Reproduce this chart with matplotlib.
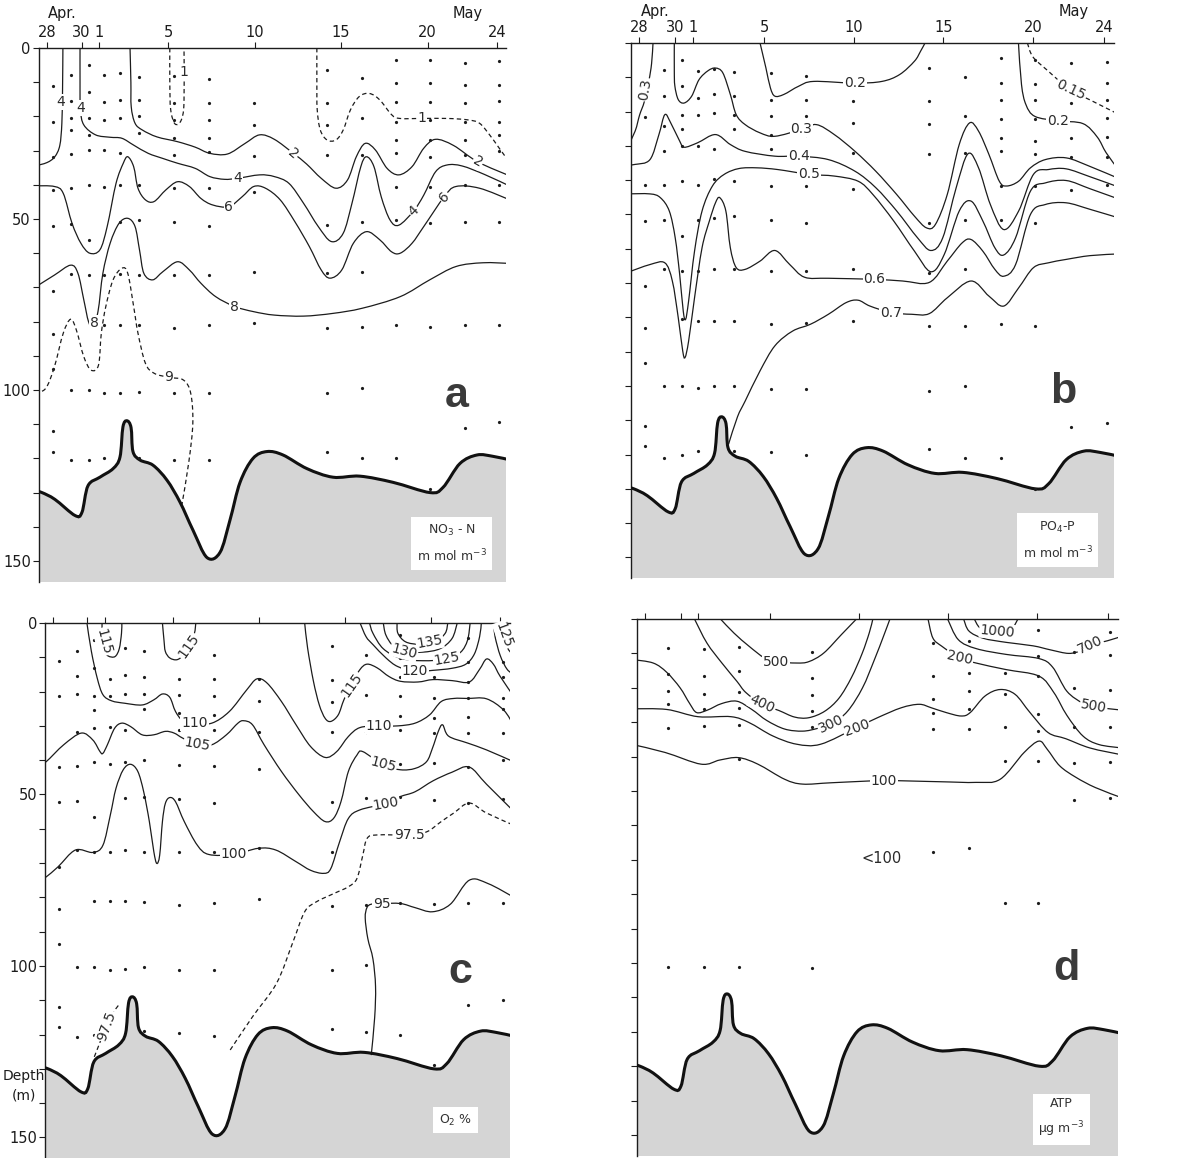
import matplotlib
matplotlib.use("Agg")
import numpy as np
import matplotlib.pyplot as plt
from matplotlib.path import Path
from matplotlib.patches import PathPatch
from matplotlib.transforms import blended_transform_factory

# x = days after 28 April, y = depth (m)
tick_days = [0, 2, 3, 7, 12, 17, 22, 26]
tick_names = ["28", "30", "1", "5", "10", "15", "20", "24"]

stations = [0.35, 1.4, 2.4, 3.3, 4.2, 5.3, 7.35, 9.35, 11.95, 16.2, 18.2, 20.2, 22.15, 24.15, 26.15]
atp_stations = [1.3, 3.3, 5.3, 9.4, 16.2, 18.2, 20.2, 22.1, 24.1, 26.1]

bottom_t = [-0.7, -0.29, 0.46, 1.62, 2.02, 2.37, 3.06, 3.82, 4.22, 4.39, 4.62, 4.86, 4.97, 5.38,
            6.13, 6.94, 7.69, 8.44, 9.25, 10.0, 10.58, 11.16, 11.91, 12.72, 13.64, 15.03, 16.53,
            18.09, 20.0, 22.14, 22.89, 23.87, 24.86, 25.78, 26.8]
bottom_d = [129.5, 130, 132, 136.7, 135.8, 128, 125.5, 123, 119.6, 110.8, 109, 111, 118, 120.5,
            122, 126.4, 132.8, 141, 149, 147.5, 138, 127, 120, 118, 119, 123, 125.5,
            125.2, 127, 130, 128.5, 121.5, 119, 119.4, 120.5]

# sampling depths per station
dots_no3 = [
    [11, 21.5, 32, 41.5, 52, 71, 83.5, 94, 112, 118],
    [8, 15.5, 20.5, 24, 31, 41, 51.5, 66, 100, 120.5],
    [5, 12.8, 20.6, 25.4, 29.8, 40, 56, 66.4, 100, 120.5],
    [7.9, 15.7, 21, 29.8, 40.5, 66.4, 81, 101, 120],
    [7.4, 15.2, 20.6, 30.8, 40, 50.8, 66, 81, 101],
    [8.4, 15.2, 20, 25, 40, 50.3, 66.4, 81, 100.5, 120],
    [8.2, 16.2, 21, 26.2, 31.3, 41, 50.8, 66.4, 82, 101, 120.5],
    [9.2, 16.2, 21, 26.2, 30.3, 41, 52, 66.4, 81, 100.8, 120.5],
    [16.2, 22.5, 31.6, 42, 65.4, 80.3],
    [6.4, 16.2, 22.5, 31.3, 51.8, 65.9, 82, 101, 118],
    [8.9, 20.6, 31.3, 50.8, 65.4, 81.5, 99.5, 120],
    [3.5, 10.3, 15.7, 21.5, 26.9, 30.8, 40.5, 50.3, 81, 120],
    [3.5, 10.3, 15.7, 21, 27, 31.8, 40.5, 51.3, 81.5, 129],
    [4.4, 10.8, 16.1, 21.6, 26.9, 31.3, 40, 51, 81, 111],
    [3.9, 10.8, 15.5, 21.6, 25.3, 30.1, 40, 51, 81, 109.5],
]
dots_po4 = [
    [21.5, 41.3, 51.9, 70.9, 83, 93.2, 111.7, 117.5],
    [7.8, 15.5, 24.3, 31.6, 41.3, 51.5, 66, 100, 121],
    [4.9, 12.6, 20.9, 25.2, 30.1, 40.3, 56.3, 66.5, 80.6, 100, 120],
    [8.3, 16, 20.9, 30.1, 41.3, 51.5, 66.5, 81, 100.5, 119],
    [7.6, 15, 20.4, 31, 39.8, 51, 66, 81, 100],
    [8.4, 15.5, 20.9, 25.2, 40.3, 50.5, 66, 81, 100, 119],
    [8.7, 16.5, 21.4, 26.7, 31, 41.7, 51.5, 66.5, 82, 101, 119.4],
    [9.7, 16.5, 21.4, 26.7, 31.6, 41.7, 52.4, 66.5, 81.6, 101, 120],
    [17, 23.3, 32, 42.7, 66, 81],
    [7.3, 17, 23.6, 32.3, 52.4, 67, 82.5, 101.5, 118.4],
    [10, 21.4, 32, 51.5, 66, 82.5, 100, 120.9],
    [4.4, 11.7, 16.5, 22.3, 27.7, 31.6, 41.7, 51.5, 82, 121],
    [4.9, 12.1, 16.5, 22.3, 28.6, 32.5, 41.7, 52.4, 82.5, 130],
    [5.8, 12.2, 17.5, 27.7, 33.2, 42.9, 112],
    [5.4, 11.7, 16.6, 21.9, 27.4, 33.2, 41.4, 110.8],
]
dots_o2 = [
    [11.2, 21.4, 41.9, 52.1, 71.1, 83.3, 93.5, 112, 117.9],
    [8.1, 15.4, 20.6, 31.8, 41.6, 51.8, 66.2, 100.3, 120.7],
    [5, 13, 21.4, 25.3, 30.7, 40.4, 56.5, 66.9, 81.1, 100.3, 120],
    [16.4, 21.4, 30.4, 41.1, 66.7, 81.1, 101.3],
    [7.3, 15.1, 20.6, 31.2, 40.4, 51.1, 66.2, 81.1, 100.8],
    [8.3, 15.6, 20.6, 25.1, 39.9, 50.6, 66.7, 81.3, 100.3, 119],
    [8.3, 16.4, 21.1, 26.3, 31.2, 41.4, 51.3, 66.7, 82.1, 101.3, 119.6],
    [9.4, 16.4, 21.4, 26.8, 31.2, 41.6, 52.6, 66.7, 81.5, 101.3, 120.4],
    [16.4, 22.7, 31.8, 42.6, 65.7, 80.5],
    [6.8, 16.6, 23.1, 31.8, 52.1, 66.7, 82.5, 101.3, 118.3],
    [9.3, 20.9, 31.8, 51.1, 82.1, 99.8, 119.3],
    [3.4, 10.2, 15.6, 21.4, 27, 31.2, 41.2, 50.6, 81.5, 120],
    [3.4, 9.3, 15.6, 21.9, 27.8, 32.1, 40.9, 51.6, 81.8, 129],
    [4.5, 11.3, 17.2, 21.9, 27.4, 32.1, 42, 52.5, 81.5, 111.4],
    [4.5, 11.3, 15.7, 21.9, 25.2, 32, 40, 51.3, 81.5, 110],
]
dots_atp = [
    [8.4, 15.9, 20.8, 24.8, 31.8, 101.2],
    [8.6, 16.6, 21.9, 26.3, 31.1, 101.2],
    [8.2, 15.2, 21.3, 25.8, 30.9, 40.8, 101.2],
    [9.5, 17.1, 22.2, 26.8, 31.3, 101.6],
    [7, 16.6, 23.4, 27.2, 32.1, 67.6],
    [6.5, 15.7, 20.8, 26.3, 32.1, 66.7],
    [3.3, 15.7, 21.9, 31.3, 41.3, 82.5],
    [3.1, 10.8, 16.6, 27.7, 32.6, 41.3, 82.5],
    [9.6, 20.1, 31.3, 41.9, 52.6],
    [3.7, 10.5, 20.6, 31.3, 41.6, 52],
]

# ---- isolines, (day, depth) ----
no3_4_left = [(0.92, 0), (0.9, 12), (0.86, 22), (0.74, 28.5), (0.45, 31.8), (0.0, 33.5), (-0.7, 34.5)]
no3_4 = [(1.91, 0), (1.91, 10), (1.93, 18), (2.13, 22.5), (2.81, 25.4), (3.65, 26.1), (4.33, 26.4),
         (5.01, 28.4), (5.85, 30.8), (6.7, 32.3), (7.55, 33.7), (8.57, 35.2), (9.41, 37.6),
         (10.26, 38.4), (11.02, 38.1), (12.29, 37.1), (13.14, 37.6), (13.99, 39.6), (14.83, 45.4),
         (15.68, 52.2), (16.44, 56.6), (17.12, 54.2), (17.63, 45.4), (18.14, 34.7), (18.47, 31.8),
         (18.9, 34.7), (19.32, 43.5), (19.83, 50.3), (20.34, 51.8), (21.2, 47.6), (21.78, 43),
         (22.46, 36.2), (23.13, 34.2), (24.0, 34.5), (25.3, 37), (26.8, 40.5)]
no3_2 = [(4.8, 0), (4.85, 10), (4.87, 17.2), (5.09, 22), (5.52, 24), (6.36, 26), (7.55, 27.4),
         (8.57, 29), (9.41, 30.8), (10.43, 31), (11.45, 27.9), (12.29, 25.4), (13.14, 26.7),
         (14.24, 30.8), (15.0, 33.9), (15.85, 38.1), (16.7, 41), (17.37, 38.6), (17.88, 31.8),
         (18.39, 27.9), (18.98, 29.8), (19.66, 35.2), (20.34, 37.1), (21.1, 34.7), (21.78, 29.3),
         (22.46, 26.7), (23.5, 28.5), (24.9, 33.3), (26.8, 37.5)]
no3_6 = [(-0.7, 40.3), (0.43, 40.5), (0.94, 42.5), (1.45, 51.3), (1.96, 57.1), (2.47, 60), (3.06, 59),
         (3.48, 52.2), (3.99, 39.6), (4.41, 33.7), (4.67, 31.8), (5.01, 34.7), (5.26, 41), (5.69, 44.4),
         (6.19, 44.9), (6.87, 41.5), (7.55, 39.1), (8.23, 40.5), (8.9, 44), (9.58, 45.9), (10.51, 46.4),
         (11.28, 43.5), (11.95, 40.5), (12.63, 41), (13.48, 44.4), (14.33, 50.8), (15.17, 58.1),
         (15.85, 64.9), (16.36, 67.3), (17.04, 64.9), (17.71, 57.1), (18.47, 53.7), (19.24, 56.1),
         (19.92, 59.6), (20.42, 60), (21.1, 57.1), (21.78, 52.2), (22.96, 43.5), (23.64, 40.5),
         (25.0, 41), (26.8, 44.5)]
no3_8 = [(-0.7, 70), (0.43, 66.4), (1.37, 63.5), (1.79, 65.9), (2.13, 73.7), (2.4, 80), (2.65, 81.5),
         (2.95, 77), (3.23, 65.9), (3.65, 57.1), (4.16, 51.3), (4.67, 49.8), (5.09, 52.2), (5.35, 59.1),
         (5.6, 65.9), (6.11, 67.8), (6.7, 65.4), (7.55, 62.5), (8.23, 64.9), (8.9, 68.8), (9.75, 72.7),
         (10.85, 75.6), (11.95, 77.1), (13.14, 78.1), (14.83, 78.4), (16.53, 77.6), (18.22, 76.1),
         (20.42, 72.7), (22.12, 67.8), (23.64, 63.9), (25.2, 62.8), (26.8, 63)]
no3_9 = [(-0.7, 101), (-0.07, 99.5), (0.43, 93.2), (0.94, 83.4), (1.37, 79.3), (1.7, 82.5), (2.13, 90.3),
         (2.55, 94.2), (2.98, 92.7), (3.14, 83.4), (3.4, 75.6), (3.82, 67.8), (4.33, 64.4), (4.67, 65.9),
         (5.01, 75.6), (5.26, 83.4), (5.69, 92.2), (6.19, 95.1), (7.04, 96.3), (7.89, 97.1), (8.31, 101),
         (8.43, 109.7), (8.2, 121), (7.8, 133.5)]
no3_1_loop = [(7.1, 0), (7.1, 10), (7.15, 18), (7.4, 22.2), (7.75, 21.2), (7.92, 16), (7.92, 0)]
no3_1 = [(15.6, 0), (15.6, 10), (15.62, 18), (15.8, 24), (16.19, 26.9), (16.7, 26.9), (17.12, 24),
         (17.54, 18.1), (18.05, 14.2), (18.64, 13.3), (19.24, 15.2), (19.92, 19.5), (20.4, 20.6),
         (21.69, 20.6), (23.13, 20.6), (24.3, 21), (25.0, 22), (25.6, 25.5), (26.1, 29), (26.6, 32.5)]

po4_03_left = [(0.78, 0), (0.7, 6), (0.55, 11), (0.3, 17), (0.03, 21), (-0.22, 25.7), (-0.7, 31)]
po4_03 = [(1.97, 0), (1.97, 8), (2.0, 12.5), (2.19, 16.5), (2.52, 17.5), (2.94, 15.5), (3.35, 10.7),
          (3.85, 8.1), (4.27, 7.3), (4.68, 8.7), (5.1, 15), (5.43, 20.9), (5.93, 23.8), (6.76, 26.2),
          (7.59, 27.2), (9.08, 25.2), (9.91, 23.8), (10.91, 26.7), (12.07, 31.6), (13.23, 37.4),
          (14.4, 44.2), (15.39, 50.5), (16.06, 53.9), (16.56, 52.9), (17.22, 44.2), (17.89, 29.6),
          (18.47, 23.3), (18.97, 25.7), (19.55, 32.5), (20.13, 40.3), (20.54, 41.7), (21.21, 40.3),
          (21.87, 36.4), (22.7, 34), (23.87, 33.5), (25.2, 36), (26.8, 39.5)]
po4_04 = [(-0.7, 35.5), (-0.22, 35.4), (0.61, 34), (1.11, 26.7), (1.44, 20.9), (1.77, 23.3), (2.27, 28.6),
          (2.52, 30.4), (3.27, 29.1), (4.27, 26.7), (5.1, 29.6), (5.93, 31.6), (7.59, 33), (8.92, 33),
          (10.58, 34), (12.07, 37.4), (13.23, 42.2), (14.4, 49), (15.56, 56.8), (16.31, 60.5),
          (16.97, 56.8), (17.72, 42.2), (18.38, 32.3), (18.97, 36.4), (19.63, 47.1), (20.38, 54.4),
          (21.21, 49), (22.04, 38.3), (22.87, 36.9), (23.87, 36.7), (25.2, 39), (26.8, 42)]
po4_05 = [(-0.7, 44), (0.61, 44), (1.19, 45.1), (1.69, 49), (2.02, 56.8), (2.27, 67.5), (2.47, 78.2),
          (2.6, 80.6), (2.77, 75.2), (3.1, 60.7), (3.52, 49), (4.1, 41.7), (4.76, 38.3), (5.59, 36.6),
          (6.59, 36.4), (7.75, 36.9), (9.5, 38.3), (10.91, 38.8), (12.24, 40.3), (13.07, 44.2),
          (14.23, 51.9), (15.39, 60.7), (16.31, 66.7), (17.05, 61.7), (17.89, 49), (18.55, 46.1),
          (19.21, 51.9), (19.88, 59.7), (20.38, 61.8), (21.04, 56.8), (21.87, 43.2), (22.7, 40.8),
          (23.87, 40.1), (25.2, 42.5), (26.8, 45.5)]
po4_06 = [(-0.7, 67), (0.61, 64.6), (1.44, 64.1), (1.86, 69.4), (2.19, 80.1), (2.44, 89.8), (2.57, 91.7),
          (2.77, 86.9), (3.1, 74.3), (3.52, 59.7), (3.93, 51.9), (4.27, 46.6), (4.51, 45.1), (4.85, 49),
          (5.1, 59.7), (5.43, 65.5), (5.93, 66), (6.76, 63.6), (7.59, 60.5), (8.42, 64.6), (9.25, 68.3),
          (10.58, 68.6), (13.15, 68.9), (14.73, 69.4), (16.22, 69.8), (17.22, 63.6), (18.05, 58.3),
          (18.55, 57.3), (19.21, 60.7), (19.88, 66), (20.38, 68), (21.04, 64.6), (21.87, 50),
          (22.7, 47.1), (23.87, 46.6), (25.2, 48.5), (26.8, 51)]
po4_07 = [(5.0, 117), (5.5, 109), (5.93, 104.4), (6.76, 95.6), (7.59, 88.3), (8.58, 84), (9.58, 82),
          (10.58, 79.1), (11.57, 75.7), (12.24, 75), (12.9, 76.7), (14.07, 78.6), (15.23, 79.1),
          (16.22, 78.9), (17.22, 74.3), (18.55, 69.4), (19.55, 73.8), (20.38, 76.7), (21.21, 71.4),
          (22.04, 65.5), (22.87, 64.1), (23.87, 63.1), (25.2, 62), (26.8, 61.5)]
po4_02 = [(6.76, 0), (7.09, 7.3), (7.34, 13.1), (7.59, 15.5), (8.09, 15), (8.92, 12.6), (9.75, 11.2),
          (12.07, 11.7), (13.57, 11.2), (14.56, 9.2), (15.39, 5.3), (15.73, 2.4), (15.98, 0)]
po4_02_right = [(21.2, 0), (21.37, 12.1), (21.62, 18), (22.12, 21.4), (23.4, 22.7), (24.8, 23.5),
                (25.6, 27.4), (26.1, 32), (26.8, 37)]
po4_015 = [(21.7, 0), (22.0, 4), (22.8, 7.9), (24.1, 13.7), (25.2, 16.6), (26.8, 20.8)]

o2_115_a = [(2.85, 0), (2.86, 4), (2.95, 8), (3.2, 9.6), (3.6, 9.8), (3.85, 7.5), (3.98, 3), (4.0, 0)]
o2_115_b = [(6.36, 0), (6.45, 5), (6.53, 8.3), (6.79, 10.2), (7.21, 10.7), (7.6, 9.2), (7.95, 6),
            (8.22, 3), (8.3, 0)]
o2_110 = [(1.97, 0), (2.23, 8.3), (2.57, 16.1), (2.9, 20.9), (3.41, 22.7), (4.17, 23.4), (5.18, 23.9),
          (5.86, 22.4), (6.36, 20.7), (6.79, 21.7), (7.12, 25.8), (7.55, 28.5), (8.22, 29.2), (9.23, 29.2),
          (10.25, 25.8), (11.26, 19.5), (11.85, 16.3), (12.44, 17.5), (13.28, 22.9), (14.13, 29.7),
          (14.97, 36), (15.82, 39.2), (16.49, 37.5), (17.17, 33.1), (17.84, 30.5), (18.94, 30),
          (20.04, 30), (21.05, 29.2), (21.89, 26.8), (22.57, 22.9), (23.3, 22), (24.1, 22),
          (25.2, 22.1), (26.2, 25.4), (26.8, 30)]
o2_115_c = [(14.63, 0), (14.8, 7.3), (15.14, 17), (15.48, 23.9), (15.82, 27.8), (16.15, 28.7),
            (16.58, 26.8), (16.91, 22.4), (17.34, 18), (17.84, 13.6), (18.26, 12), (18.85, 13.1),
            (19.53, 15.6), (20.2, 17), (21.22, 17.2), (22.1, 16.5), (23.2, 16.8), (24.2, 17.2),
            (24.8, 13.5), (25.2, 10.5), (25.6, 12), (26.0, 15.6), (26.8, 21.5)]
o2_120 = [(17.85, 0), (18.2, 4), (18.6, 6.3), (19.36, 10.2), (20.04, 12.7), (21.05, 14.1), (22.1, 13.8),
          (23.2, 13.2), (24.0, 12), (24.5, 9), (24.8, 4), (24.9, 0)]
o2_125 = [(18.4, 0), (18.6, 3), (19.2, 7.5), (20.2, 10.3), (21.5, 11), (22.9, 10.5), (23.7, 8.5),
          (24.1, 5), (24.25, 0)]
o2_130 = [(19.2, 0), (19.35, 3.5), (19.8, 6.8), (20.5, 8.3), (21.5, 8.5), (22.5, 7.5), (23.2, 4.5), (23.5, 0)]
o2_135 = [(20.0, 0), (20.05, 3), (20.5, 5.5), (21.3, 6.2), (22.2, 5.5), (22.8, 3), (22.95, 0)]
o2_120_right = [(25.6, 0), (25.7, 4), (26.0, 9.5), (26.4, 13.5), (26.8, 15)]
o2_125_right = [(26.1, 0), (26.25, 4), (26.45, 7.5), (26.8, 9.5)]
o2_105 = [(-0.7, 41), (-0.39, 40.4), (0.62, 35.5), (1.64, 32.1), (2.31, 34.1), (2.73, 37.5), (2.9, 38),
          (3.16, 35.5), (3.58, 30.7), (4.0, 29.2), (4.51, 30.2), (5.18, 32.6), (5.86, 32.6), (6.53, 31.6),
          (7.04, 32.1), (7.55, 33.6), (8.39, 35.5), (9.23, 35.5), (10.08, 32.6), (10.75, 29.2),
          (11.09, 28.5), (11.6, 29.7), (12.27, 35.5), (13.28, 43.3), (14.3, 50.1), (15.14, 55),
          (15.82, 57.9), (16.32, 56.9), (16.74, 52.1), (17.17, 43.3), (17.67, 38.5), (18.01, 37.5),
          (19.19, 41.4), (20.2, 42.8), (21.05, 42.4), (21.72, 40.4), (22.06, 36.5), (22.4, 31.6),
          (22.65, 29.7), (23.0, 33), (24.1, 35), (25.2, 37), (26.8, 40.5)]
o2_100 = [(-0.7, 75), (-0.39, 74), (0.29, 71.1), (1.3, 66.2), (2.31, 66.9), (2.9, 64.8), (3.33, 56),
          (3.66, 48.2), (4.08, 42.8), (4.51, 41.2), (4.93, 43.3), (5.27, 49.2), (5.6, 57.9), (5.86, 66.7),
          (6.03, 70.1), (6.2, 67.7), (6.36, 57.9), (6.53, 52.6), (6.79, 50.9), (7.12, 52.1), (7.63, 57.9),
          (8.39, 64.8), (9.06, 67.5), (10.5, 67.5), (11.93, 65.7), (12.95, 66.2), (14.13, 69.6),
          (14.97, 72.1), (15.73, 73), (16.15, 71.6), (16.66, 63.8), (17.17, 57), (17.84, 54.5),
          (19.36, 52.6), (20.2, 50.6), (21.05, 49.2), (22.1, 46), (23.2, 43.5), (24.2, 42), (25.2, 47),
          (26.8, 55)]
o2_975 = [(10.3, 124.5), (11.6, 114.8), (13.0, 105), (13.95, 93), (14.63, 84.2), (15.31, 81.3),
          (16.32, 78.9), (17.17, 76.9), (17.67, 74.5), (18.01, 67.7), (18.26, 62.8), (18.85, 61.8),
          (20.71, 61.8), (21.72, 60.9), (22.57, 57.9), (23.3, 55.4), (24.2, 52.5), (25.2, 55.4), (26.8, 59)]
o2_975_small = [(2.4, 126.5), (2.75, 122), (3.1, 117.5), (3.45, 114), (3.8, 111.5)]
o2_95 = [(18.5, 126), (18.7, 115), (18.75, 106), (18.6, 98), (18.3, 92), (18.15, 86), (18.25, 83),
         (18.5, 82), (19.1, 81.8), (20.2, 81.8), (21.05, 83), (22.06, 84.2), (23.1, 82), (24.2, 75),
         (25.3, 76), (26.8, 80)]

atp_500 = [(4.24, 0), (5.0, 4.1), (5.84, 7.9), (6.7, 11.3), (7.35, 12.4), (8.52, 12.8), (9.2, 12.4),
           (10.04, 9.9), (11.04, 4.5), (11.88, 0)]
atp_400 = [(2.78, 0), (3.48, 7), (4.32, 12.8), (5.16, 18.1), (5.67, 21.4), (6.59, 24.8), (7.52, 26.6),
           (8.4, 28.5), (9.2, 28.7), (10.1, 26.8), (10.9, 23), (11.6, 17), (12.2, 10), (12.6, 4), (12.8, 0)]
atp_300 = [(-0.7, 11.8), (0.46, 12.8), (1.22, 15.5), (1.97, 20), (2.5, 24.5), (2.9, 27.2), (3.5, 26.5),
           (4.3, 24.6), (5.16, 23.9), (6.0, 26.3), (6.84, 29.5), (7.85, 32), (8.86, 32.6), (9.7, 31.8),
           (10.46, 30.6), (11.38, 26.8), (12.22, 20), (12.89, 11.8), (13.4, 5), (13.76, 0)]
atp_200 = [(-0.7, 26.1), (1.22, 26.3), (2.98, 28.4), (4.83, 28.4), (5.84, 30.1), (7.18, 34), (8.52, 36.4),
           (9.87, 36.4), (11.88, 31.6), (13.06, 28.7), (14.4, 25.8), (15.41, 24.8), (16.08, 25.8),
           (16.92, 27.2), (17.76, 28.2), (18.27, 27.2), (19.1, 22.4), (19.95, 20.5), (20.79, 21.9),
           (21.63, 27.2), (22.64, 33), (23.64, 34.8), (25.0, 37.5), (26.8, 39.5)]
atp_100 = [(-0.7, 36.5), (1.13, 38.8), (3.15, 42.2), (4.2, 41), (5.25, 40.3), (6.34, 42.2), (7.85, 46.6),
           (8.86, 48), (10.5, 47.6), (13.4, 47), (16.5, 47.3), (18.6, 47.5), (19.95, 46.6), (21.3, 38.8),
           (22.13, 35.5), (22.6, 37.9), (23.3, 42.7), (24.2, 46), (25.3, 49), (26.8, 52)]
atp_200_right = [(15.9, 0), (16.17, 5.5), (16.67, 7.9), (17.68, 11.3), (18.6, 12.8), (20.28, 14.7),
                 (22.13, 16.6), (22.97, 21.4), (23.7, 28), (24.6, 34), (25.5, 36.5), (26.8, 37.5)]
atp_500_right = [(17.0, 0), (17.6, 6), (18.6, 8.6), (20.3, 10.3), (22.13, 11.5), (22.9, 14),
                 (23.7, 21), (24.6, 24.5), (25.2, 25.5), (26.8, 26.5)]
atp_700 = [(17.9, 0), (18.2, 3.5), (19.0, 5.6), (20.3, 6.8), (21.8, 7.8), (22.8, 9.0), (23.8, 10.0),
           (24.5, 9.2), (25.0, 7.6), (26.0, 6.3), (26.8, 5)]
atp_1000 = [(18.5, 0), (18.8, 2.5), (19.4, 3.8), (20.1, 4.0), (20.6, 3), (20.95, 0)]

INK = "#1c1c1c"
GRAY = "#d5d5d5"
W, H = 1183, 1158


def smooth_path(pts):
    p = np.asarray(pts, float)
    ext = np.vstack([p[0], p, p[-1]])
    verts = [p[0]]
    codes = [Path.MOVETO]
    for i in range(1, len(ext) - 2):
        p0, p1, p2, p3 = ext[i - 1], ext[i], ext[i + 1], ext[i + 2]
        verts += [p1 + (p2 - p0) / 6, p2 - (p3 - p1) / 6, p2]
        codes += [Path.CURVE4] * 3
    return verts, codes


def iso(ax, pts, dashed=False):
    v, c = smooth_path(pts)
    ls = (0, (3.5, 2.5)) if dashed else "-"
    ax.add_patch(PathPatch(Path(v, c), fill=False, ec=INK, lw=0.9, ls=ls, zorder=3))


def lab(ax, txt, t, d, rot=0, size=10):
    ax.text(t, d, txt, ha="center", va="center", rotation=rot, fontsize=size, color="#2a2a2a",
            zorder=5, bbox=dict(boxstyle="square,pad=0.06", fc="white", ec="none"))


def panel(rect, tick_labels, depth_labels, dots_st, dots_d, tag, unit):
    ax = fig.add_axes(rect)
    ax.set_xlim(-0.45, 26.55)
    ax.set_ylim(156, 0)
    for s in ("right", "bottom"):
        ax.spines[s].set_visible(False)
    for s in ("top", "left"):
        ax.spines[s].set_linewidth(1.0)
        ax.spines[s].set_color(INK)
    ax.xaxis.tick_top()
    ax.set_xticks(tick_days)
    ax.set_xticklabels(tick_names if tick_labels else [])
    ax.tick_params(axis="x", direction="out", length=4, width=0.8, pad=1.5, labelsize=10.5,
                   colors=INK)
    ax.set_yticks([0, 50, 100, 150])
    ax.set_yticks(np.arange(10, 160, 10), minor=True)
    ax.set_yticklabels(["0", "50", "100", "150"] if depth_labels else [])
    ax.tick_params(axis="y", which="both", direction="out", length=4, width=0.8, pad=2,
                   labelsize=10.5, colors=INK)
    # sea floor
    v, c = smooth_path(list(zip(bottom_t, bottom_d)))
    fv = v + [(bottom_t[-1], 170), (bottom_t[0], 170), (bottom_t[0], bottom_d[0])]
    fc = c + [Path.LINETO, Path.LINETO, Path.CLOSEPOLY]
    ax.add_patch(PathPatch(Path(fv, fc), fc=GRAY, ec="none", zorder=2))
    ax.add_patch(PathPatch(Path(v, c), fill=False, ec="#111111", lw=2.2, zorder=4))
    xs = [t for t, ds in zip(dots_st, dots_d) for _ in ds]
    ys = [d for ds in dots_d for d in ds]
    ax.plot(xs, ys, "o", ms=2.3, color=INK, mew=0, zorder=4.5)
    ax.text(23.7, 105, tag, fontsize=31, fontweight="bold", color="#3a3a3a", ha="center",
            va="baseline", family="Liberation Sans", zorder=6)
    ax.text(23.4, 145, unit, fontsize=9, color="#333333", ha="center", va="center",
            linespacing=1.7, zorder=6,
            bbox=dict(boxstyle="square,pad=0.45", fc="white", ec="none"))
    return ax


fig = plt.figure(figsize=(W / 100, H / 100), dpi=100)
plt.rcParams["font.family"] = ["DejaVu Sans"]

ax_a = panel([39.2 / W, 1 - 581.5 / H, 467.1 / W, 533.5 / H], True, True, stations, dots_no3, "a",
             "NO$_3$ - N\nm mol m$^{-3}$")
ax_b = panel([631 / W, 1 - 578 / H, 483.2 / W, 535 / H], True, False, stations, dots_po4, "b",
             "PO$_4$-P\nm mol m$^{-3}$")
ax_c = panel([45.3 / W, 0.0, 464.4 / W, 535 / H], False, True, stations, dots_o2, "c", "O$_2$ %")
ax_d = panel([637 / W, 1 - 1155.6 / H, 480.6 / W, 536.6 / H], False, False, atp_stations, dots_atp,
             "d", "ATP\nµg m$^{-3}$")

for ax, dy in ((ax_a, 1.064), (ax_b, 1.058)):
    tr = blended_transform_factory(ax.transData, ax.transAxes)
    ax.text(0.9, dy, "Apr.", transform=tr, ha="center", va="center", fontsize=10.5, color=INK)
    ax.text(24.3, dy, "May", transform=tr, ha="center", va="center", fontsize=10.5, color=INK)

tr = blended_transform_factory(ax_c.transAxes, ax_c.transData)
ax_c.text(-0.046, 135, "Depth\n(m)", transform=tr, ha="center", va="center", fontsize=10,
          color=INK, linespacing=1.5)

# panel a
for line in (no3_4_left, no3_4, no3_2, no3_6, no3_8):
    iso(ax_a, line)
for line in (no3_9, no3_1_loop, no3_1):
    iso(ax_a, line, dashed=True)
for txt, t, d, r in [("4", 0.8, 15.7, 0), ("4", 1.96, 17.6, 0), ("1", 7.92, 7, 0),
                     ("2", 14.24, 30.8, -40), ("4", 11.02, 38.1, 0), ("6", 10.51, 46.4, 0),
                     ("8", 10.85, 75.6, 0), ("8", 2.75, 80.5, 0), ("9", 7.04, 96.3, 0),
                     ("1", 21.69, 20.6, 0), ("2", 24.9, 33.3, -30), ("4", 21.2, 47.6, 45),
                     ("6", 22.96, 43.5, 45)]:
    lab(ax_a, txt, t, d, r)

# panel b
for line in (po4_03_left, po4_03, po4_04, po4_05, po4_06, po4_07, po4_02, po4_02_right):
    iso(ax_b, line)
iso(ax_b, po4_015, dashed=True)
for txt, t, d, r in [("0.3", 0.36, 13.6, 80), ("0.2", 12.07, 11.7, 0), ("0.3", 9.08, 25.2, 0),
                     ("0.4", 8.92, 33, 0), ("0.5", 9.5, 38.3, 0), ("0.6", 13.15, 68.9, 0),
                     ("0.7", 14.07, 78.6, 0), ("0.2", 23.4, 22.7, 0), ("0.15", 24.1, 13.7, -25)]:
    lab(ax_b, txt, t, d, r)

# panel c
for line in (o2_115_a, o2_115_b, o2_110, o2_115_c, o2_120, o2_125, o2_130, o2_135, o2_120_right,
             o2_125_right, o2_105, o2_100, o2_95):
    iso(ax_c, line)
for line in (o2_975, o2_975_small):
    iso(ax_c, line, dashed=True)
for txt, t, d, r in [("115", 2.92, 5.5, -75), ("115", 7.88, 6.8, 55), ("110", 8.22, 29.2, 0),
                     ("105", 8.39, 35.5, -10), ("100", 10.5, 67.5, 0), ("115", 17.34, 18, 55),
                     ("110", 18.94, 30, 0), ("105", 19.19, 41.4, -15), ("100", 19.36, 52.6, 10),
                     ("130", 20.4, 8.3, -15), ("135", 21.9, 5.6, 10), ("125", 22.9, 10.5, 10),
                     ("120", 21.05, 14.1, 0), ("125", 26.2, 3.5, -70), ("97.5", 20.71, 61.8, 0),
                     ("95", 19.1, 81.8, 0), ("97.5", 3.1, 117.5, 70)]:
    lab(ax_c, txt, t, d, r)

# panel d
for line in (atp_500, atp_400, atp_300, atp_200, atp_100, atp_200_right, atp_500_right, atp_700,
             atp_1000):
    iso(ax_d, line)
for txt, t, d, r in [("500", 7.35, 12.4, 0), ("400", 6.59, 24.8, -25), ("300", 10.46, 30.6, 25),
                     ("200", 11.88, 31.6, 20), ("100", 13.4, 47, 0), ("200", 17.68, 11.3, -12),
                     ("1000", 19.8, 3.6, -5), ("700", 25.0, 7.6, 25), ("500", 25.2, 25.5, -10)]:
    lab(ax_d, txt, t, d, r)
ax_d.text(13.3, 69.5, "<100", ha="center", va="center", fontsize=10.5, color="#2a2a2a", zorder=5)

fig.savefig("out.png", dpi=100)
